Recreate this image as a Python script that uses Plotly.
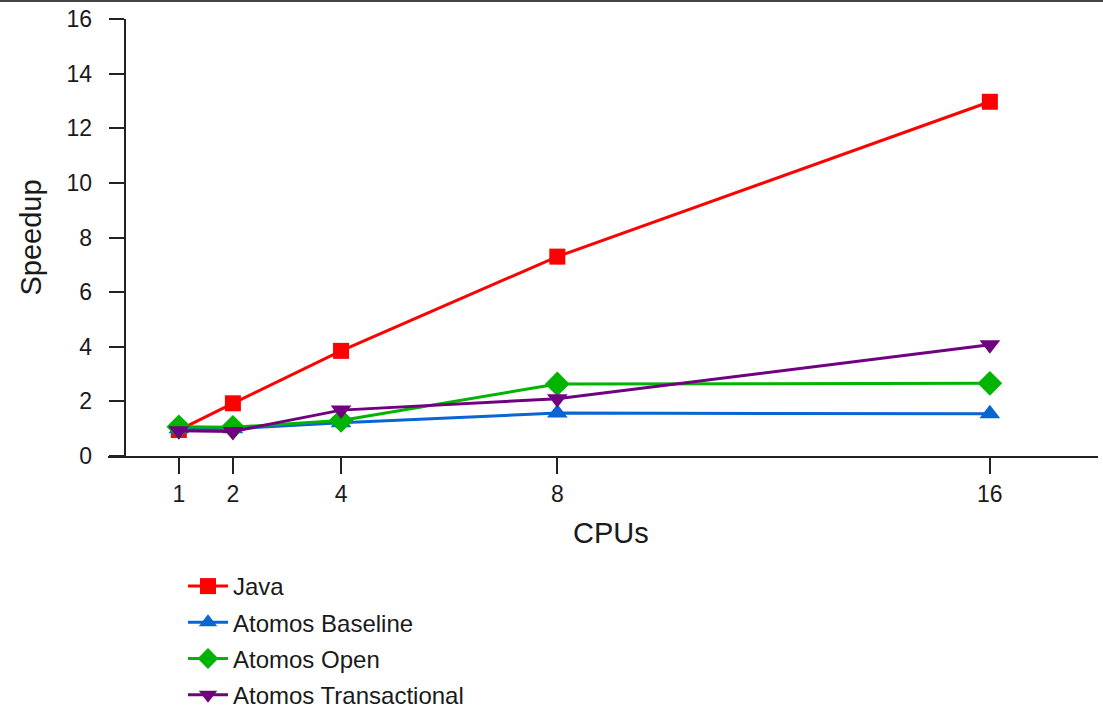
import plotly.graph_objects as go

cpus = [1, 2, 4, 8, 16]
java = [0.95, 1.93, 3.85, 7.30, 12.97]
atomos_baseline = [1.0, 1.0, 1.22, 1.57, 1.55]
atomos_open = [1.07, 1.05, 1.30, 2.64, 2.66]
atomos_transactional = [0.92, 0.9, 1.68, 2.1, 4.07]

series_names = ["Java", "Atomos Baseline", "Atomos Open", "Atomos Transactional"]
series_values = [java, atomos_baseline, atomos_open, atomos_transactional]
colors = ["#FF0000", "#0A64D2", "#00B400", "#700080"]
symbols = ["square", "triangle-up", "diamond", "triangle-down"]
sizes = [16, 18, 19, 18]

y_ticks = list(range(0, 17, 2))
x_ticks = cpus

FONT = "Liberation Sans, Arial, sans-serif"
AX = "#222222"
TXT = "#1a1a1a"

fig = go.Figure()
for name, vals, c, s, sz in zip(series_names, series_values, colors, symbols, sizes):
    fig.add_trace(go.Scatter(
        x=cpus, y=vals, name=name, mode="lines+markers",
        line=dict(color=c, width=3),
        marker=dict(color=c, symbol=s, size=sz, line=dict(width=0)),
        legendgroup=name, cliponaxis=False,
    ))

xmin, xmax = -0.31, 18.0
fig.update_layout(
    width=1103, height=709,
    margin=dict(l=108, r=5, t=19, b=253, pad=0, autoexpand=False),
    paper_bgcolor="white", plot_bgcolor="white",
    font=dict(family=FONT, color=TXT),
    xaxis=dict(range=[xmin, xmax], tickvals=x_ticks, ticktext=[str(v) for v in x_ticks],
               showgrid=False, zeroline=False, showline=True, linecolor=AX, linewidth=2,
               ticks="outside", ticklen=16, tickwidth=2, tickcolor=AX, automargin=False,
               tickfont=dict(size=23, family=FONT, color=TXT)),
    yaxis=dict(range=[0, 16], tickvals=y_ticks, showgrid=False, zeroline=False,
               showline=True, linecolor=AX, linewidth=2, automargin=False,
               anchor="free", position=(0 - xmin) / (xmax - xmin),
               ticks="outside", ticklen=15, tickwidth=2, tickcolor=AX,
               ticklabelstandoff=12,
               tickfont=dict(size=23, family=FONT, color=TXT)),
    showlegend=True,
    legend=dict(x=(183 - 108) / 990, y=(456 - 564) / 437, xanchor="left", yanchor="top",
                orientation="v", font=dict(size=24, family=FONT, color=TXT),
                tracegroupgap=2, bgcolor="rgba(0,0,0,0)", itemwidth=40),
    annotations=[
        dict(text="CPUs", x=(611 - 108) / 990, y=(456 - 533) / 437, xref="paper", yref="paper",
             showarrow=False, font=dict(size=29, family=FONT, color=TXT),
             xanchor="center", yanchor="middle"),
        dict(text="Speedup", x=(30 - 108) / 990, y=0.5, xref="paper", yref="paper",
             showarrow=False, textangle=-90, font=dict(size=29, family=FONT, color=TXT),
             xanchor="center", yanchor="middle"),
    ],
    shapes=[dict(type="line", xref="paper", yref="paper",
                 x0=-108 / 990, x1=(1103 - 108) / 990,
                 y0=(456 - 1) / 437, y1=(456 - 1) / 437,
                 line=dict(color="#444444", width=2))],
)

fig.write_html("out.html")
